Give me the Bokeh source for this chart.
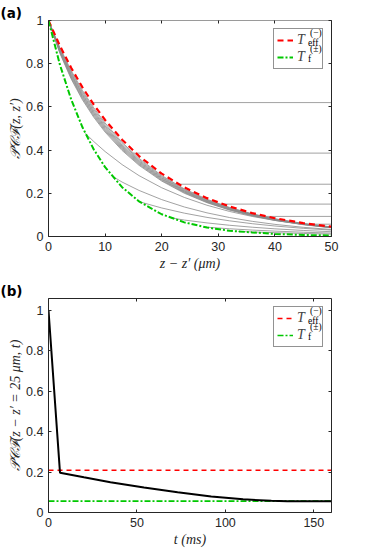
from bokeh.plotting import figure
from bokeh.models import Range1d, LinearAxis, FixedTicker, Legend, LegendItem
from bokeh.layouts import column
from bokeh.core.properties import value
from bokeh.embed import file_html
from bokeh.resources import INLINE

# ---------------- data: panel (a) ----------------
z_grid = [0, 2, 4, 6, 8, 10, 13, 16, 20, 24, 28, 32, 36, 40, 45, 50]
pcf_eff = [1, .8838, .7812, .6905, .6103, .5394, .4482, .3724, .2910, .2273,
           .1776, .1387, .1084, .0847, .0622, .0457]
pcf_f = [1, .7967, .6348, .5057, .4029, .3210, .2283, .1623, .1030, .0654,
         .0415, .0264, .0190, .0120, .0070, .0045]
# intermediate curves (bundle just below T_eff)
bundle_1 = [1, .8751, .7683, .6760, .5957, .5254, .4357, .3617, .2824, .2205, .1723, .1346, .1051, .0822, .0603, .0443]
bundle_2 = [1, .8707, .7618, .6688, .5884, .5184, .4295, .3563, .2781, .2172, .1696, .1325, .1035, .0809, .0594, .0436]
bundle_3 = [1, .8663, .7554, .6615, .5811, .5114, .4233, .3510, .2739, .2138, .1670, .1304, .1019, .0796, .0585, .0430]
bundle_4 = [1, .8628, .7502, .6558, .5752, .5058, .4183, .3467, .2704, .2111, .1649, .1287, .1006, .0786, .0577, .0424]
bundle_5 = [1, .8593, .7451, .6500, .5694, .5002, .4133, .3424, .2670, .2084, .1627, .1271, .0993, .0776, .0570, .0419]
bundle_6 = [1, .8558, .7399, .6442, .5635, .4946, .4084, .3381, .2636, .2057, .1606, .1254, .0980, .0766, .0562, .0413]
bundle_7 = [1, .8523, .7347, .6384, .5577, .4890, .4034, .3338, .2601, .2030, .1585, .1237, .0967, .0756, .0555, .0408]
bundle_8 = [1, .8488, .7296, .6326, .5519, .4834, .3984, .3295, .2567, .2002, .1564, .1221, .0954, .0745, .0547, .0402]
bundles = [bundle_1, bundle_2, bundle_3, bundle_4, bundle_5, bundle_6, bundle_7, bundle_8]
# plateaus
flat_level = [1.0, 0.62, 0.386, 0.242, 0.150, 0.093, 0.057]
flat_start = [0, 7.4, 15.0, 22.6, 30.4, 38.1, 46.0]
# curves leaving the T_f curve
branch_start = [6.5, 11.3, 16.1, 21.7, 27.5, 33.5]
branch_vals = [
    [.478, .4396, .3934, .3330, .2818, .2257, .1808, .1447, .1159, .0928, .0743, .0563, .0426],
    [.2790, .2520, .2133, .1708, .1367, .1095, .0877, .0702, .0562, .0426, .0323],
    [.1605, .1321, .1081, .0885, .0725, .0593, .0486, .0378, .0295],
    [.0860, .0761, .0629, .0520, .0430, .0355, .0280, .0221],
    [.0445, .0429, .0358, .0298, .0249, .0198, .0158],
    [.0236, .0211, .0176, .0140, .0111],
]
za_ticks = [0, 10, 20, 30, 40, 50]
y_ticks = [0, 0.2, 0.4, 0.6, 0.8, 1]
y_tick_labels = ["0", "0.2", "0.4", "0.6", "0.8", "1"]

# ---------------- data: panel (b) ----------------
t_ms = [0, 6.5, 20, 35, 54, 73, 92, 110, 126, 135, 160]
pcf_t = [1, 0.197, 0.174, 0.150, 0.124, 0.100, 0.079, 0.065, 0.058, 0.056, 0.056]
eff_level_b = 0.209
f_level_b = 0.056
tb_ticks = [0, 50, 100, 150]
yb_top = 1.058

# legend sub/superscripts
leg_small = ["(−)", "eff", "(±)", "f"]

GRAY = "#8a8a8a"
RED = "#ff0000"
GREEN = "#00c800"
AX = "#262626"
TICK_FONT = "Liberation Sans"
LAB_FONT = "Liberation Serif"


def dress(p, xt, yt, yl, xlab, ylab, panel, top_color=AX):
    p.grid.visible = False
    p.outline_line_color = None
    p.background_fill_color = "white"
    p.border_fill_color = "white"
    p.title.text = panel
    p.title.align = "left"
    p.title.offset = -48
    p.title.standoff = 0
    p.title.text_font = "DejaVu Sans"
    p.title.text_font_style = "bold"
    p.title.text_font_size = "13.5px"
    p.title.text_color = "black"
    p.xaxis.ticker = FixedTicker(ticks=xt)
    p.yaxis.ticker = FixedTicker(ticks=yt)
    p.yaxis.major_label_overrides = dict(zip(yt, yl))
    p.xaxis.axis_label = xlab
    p.yaxis.axis_label = ylab
    for ax in (p.xaxis[0], p.yaxis[0]):
        ax.axis_line_color = AX
        ax.major_tick_line_color = AX
        ax.major_tick_in = 3
        ax.major_tick_out = 0
        ax.minor_tick_line_color = None
        ax.major_label_text_font = TICK_FONT
        ax.major_label_text_font_size = "12.5px"
        ax.major_label_text_color = AX
        ax.axis_label_text_font = LAB_FONT
        ax.axis_label_text_font_style = "italic"
        ax.axis_label_text_font_size = "14px"
        ax.axis_label_text_color = AX
    p.xaxis.major_label_standoff = 5
    p.yaxis.major_label_standoff = 5
    p.xaxis.axis_label_standoff = 2
    p.yaxis.axis_label_standoff = 0
    top = LinearAxis(ticker=FixedTicker(ticks=xt), major_label_overrides={t: "" for t in xt})
    right = LinearAxis(ticker=FixedTicker(ticks=yt), major_label_overrides={t: "" for t in yt})
    for ax, col in ((top, top_color), (right, AX)):
        ax.axis_line_color = col
        ax.major_tick_line_color = AX
        ax.major_tick_in = 3
        ax.major_tick_out = 0
        ax.minor_tick_line_color = None
        ax.major_label_text_font_size = "1px"
        ax.major_label_standoff = 0
    p.add_layout(top, "above")
    p.add_layout(right, "right")


def add_legend(p, r_red, r_green, ax_x, ax_y):
    leg = Legend(items=[LegendItem(label="T", renderers=[r_red]),
                        LegendItem(label="T", renderers=[r_green])])
    leg.location = "top_right"
    leg.margin = 8
    leg.padding = 3
    leg.spacing = 1
    leg.glyph_height = 14
    leg.glyph_width = 16
    leg.label_height = 14
    leg.label_width = 22
    leg.label_standoff = 4
    leg.label_text_font = LAB_FONT
    leg.label_text_font_style = "italic"
    leg.label_text_font_size = "14px"
    leg.border_line_color = AX
    leg.border_line_width = 1
    leg.background_fill_alpha = 0
    p.add_layout(leg)
    p.text(x=[ax_x] * 4, y=[ax_y] * 4, text=leg_small,
           x_offset=[-21.5, -23.5, -21.5, -23.5], y_offset=[12.5, 22.5, 28, 38],
           text_font=value(LAB_FONT), text_font_size="9.5px", text_color="black",
           text_baseline="middle", text_align="left")


# ---------------- panel (a) ----------------
pA = figure(width=366, height=276, x_range=Range1d(z_grid[0], z_grid[-1]), y_range=Range1d(0, 1),
            output_backend="svg", toolbar_location=None,
            min_border_left=48, min_border_right=35, min_border_top=20, min_border_bottom=40)
dress(pA, za_ticks, y_ticks, y_tick_labels, "z − z′ (μm)", "𝒫𝒞ℱ(z, z′)", "(a)", top_color="#9a9a9a")

for b in bundles:
    pA.line(z_grid, b, line_color=GRAY, line_width=0.8)
pA.segment(x0=flat_start, y0=flat_level, x1=[z_grid[-1]] * len(flat_level), y1=flat_level,
           line_color=GRAY, line_width=0.8)
for z0, vals in zip(branch_start, branch_vals):
    zs = [z0] + [z for z in z_grid if z > z0]
    pA.line(zs, vals, line_color=GRAY, line_width=0.8)
rA_red = pA.line(z_grid, pcf_eff, line_color=RED, line_width=2.2, line_dash="6 4")
rA_green = pA.line(z_grid, pcf_f, line_color=GREEN, line_width=2, line_dash="6 2 2 2")
add_legend(pA, rA_red, rA_green, z_grid[-1], y_ticks[-1])

# ---------------- panel (b) ----------------
pB = figure(width=366, height=275, x_range=Range1d(t_ms[0], t_ms[-1]), y_range=Range1d(0, yb_top),
            output_backend="svg", toolbar_location=None,
            min_border_left=48, min_border_right=35, min_border_top=22, min_border_bottom=39)
dress(pB, tb_ticks, y_ticks, y_tick_labels, "t (ms)", "𝒫𝒞ℱ(z − z′ = 25 μm, t)", "(b)")
rB_red = pB.line([t_ms[0], t_ms[-1]], [eff_level_b, eff_level_b], line_color=RED,
                 line_width=1.6, line_dash="5 4")
rB_green = pB.line([t_ms[0], t_ms[-1]], [f_level_b, f_level_b], line_color=GREEN,
                   line_width=1.6, line_dash="6 2 2 2")
pB.line(t_ms, pcf_t, line_color="black", line_width=2)
add_legend(pB, rB_red, rB_green, t_ms[-1], yb_top)

layout = column(pA, pB, spacing=0)
open("out.html", "w").write(file_html(layout, INLINE))
